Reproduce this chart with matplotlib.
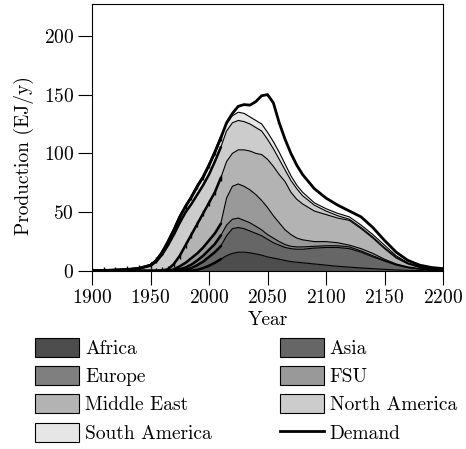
import matplotlib
matplotlib.use("Agg")
import matplotlib.pyplot as plt
from matplotlib.patches import Patch
from matplotlib.lines import Line2D

plt.rcParams['font.family'] = 'serif'
plt.rcParams['font.serif'] = ['cmr10']
plt.rcParams['mathtext.fontset'] = 'cm'
plt.rcParams['axes.formatter.use_mathtext'] = True

years = [1900, 1910, 1920, 1930, 1940, 1950, 1955, 1960, 1965, 1970, 1975, 1980,
         1985, 1990, 1995, 2000, 2005, 2010, 2015, 2020, 2025, 2030, 2035, 2040,
         2045, 2050, 2055, 2060, 2065, 2070, 2075, 2080, 2090, 2100, 2110, 2120,
         2130, 2140, 2150, 2160, 2170, 2180, 2190, 2200]

# cumulative tops of stacked regions (EJ/y)
cum_africa = [0, 0, 0, 0, 0, 0, 0, 0, 0, 0, 0, 0,
              0.3, 1, 2.5, 4.5, 7, 10, 13, 15, 16, 16, 15.5, 14.5,
              13.5, 12, 11, 10, 9, 8, 7.5, 7, 6, 5, 4, 3.3,
              2.6, 2, 1.4, 0.9, 0.5, 0.3, 0.2, 0.1]
cum_asia = [0, 0, 0, 0, 0, 0, 0, 0, 0, 0, 0.3, 1,
            2.5, 5, 8, 12, 16, 21, 30, 36, 37, 36, 34, 32,
            30, 27, 24, 22, 20, 19, 18.5, 18.5, 19.5, 20, 20, 19,
            16, 12, 8.5, 5, 2.8, 1.6, 0.8, 0.4]
cum_europe = [0, 0, 0, 0, 0, 0, 0, 0, 0, 0.5, 1.5, 3,
              5.5, 9, 13, 18, 23, 30, 39, 44, 45, 43, 41, 38,
              35, 31, 28, 25, 22.5, 21, 20.5, 20.5, 21, 21.5, 21.5, 20.5,
              17, 13, 9, 5.5, 3, 1.8, 0.9, 0.45]
cum_fsu = [0, 0, 0, 0, 0, 0, 0, 0, 0.3, 1.5, 4, 7,
           11, 15, 20, 26, 32, 40, 62, 72, 74, 72, 69, 65,
           60, 54, 47, 41, 35, 31, 28, 26.5, 25, 25, 24, 22,
           19, 15, 10, 6, 3.5, 2, 1, 0.5]
cum_me = [0, 0, 0, 0, 0, 0, 0, 0.5, 1.5, 6, 13, 22,
          31, 40, 49, 58, 67, 79, 93, 100, 103, 103, 102, 100,
          99, 95, 89, 82, 76, 67, 61, 57, 51, 48, 45, 43,
          36, 28, 19, 11, 6, 3, 1.3, 0.7]
cum_na = [0.3, 0.5, 0.8, 1.2, 2, 4.5, 8, 14, 22, 31, 41, 50,
          57, 65, 73, 82, 93, 105, 119, 126, 128, 127, 125, 122,
          119, 112, 104, 95, 86, 77, 70, 64, 56, 51, 47, 44,
          37, 29, 20, 12, 6.5, 3.3, 1.5, 0.8]
cum_sa = [0.3, 0.5, 0.8, 1.3, 2.2, 5, 9, 16, 25, 35, 46, 55,
          63, 72, 80, 90, 101, 113, 125, 132, 135, 134, 131, 128,
          125, 118, 110, 101, 91, 81, 73, 67, 58, 53, 49, 46,
          39, 31, 22, 13, 7, 3.8, 1.8, 1]
demand = [0.3, 0.5, 0.8, 1.3, 2.2, 5, 9, 16, 25, 35, 46, 55,
          63, 72, 80, 90, 101, 113, 126, 134, 140, 141.5, 141, 144,
          149, 150, 143, 126, 112, 100, 90, 82, 70, 62, 56, 51,
          46, 37, 26, 16, 9, 5, 3, 2]

regions = ["Africa", "Asia", "Europe", "FSU", "Middle East", "North America", "South America"]
colors = ["#4d4d4d", "#666666", "#7f7f7f", "#999999", "#b3b3b3", "#cccccc", "#e6e6e6"]
hist_end = 2010
FS = 14

fig = plt.figure(figsize=(4.66, 4.49), dpi=100)
ax = fig.add_axes([92/466, 178/449, 351/466, 267/449])

layers = [cum_africa, cum_asia, cum_europe, cum_fsu, cum_me, cum_na, cum_sa]
lower = [0]*len(years)
for name, col, top in zip(regions, colors, layers):
    ax.fill_between(years, lower, top, facecolor=col, edgecolor='none', zorder=1)
    ax.plot(years, top, color='black', lw=0.8, zorder=2)
    lower = top

# historical period drawn thicker
hist_idx = [i for i, y in enumerate(years) if y <= hist_end]
hy = [years[i] for i in hist_idx]
for top in layers:
    ax.plot(hy, [top[i] for i in hist_idx], color='black', lw=1.8, zorder=3)
for top in [cum_me, cum_sa]:
    ax.plot(hy, [top[i] for i in hist_idx], color='black', lw=0, marker='|',
            ms=4, mew=1.0, zorder=3)

ax.plot(years, demand, color='black', lw=2, zorder=4)

ax.set_xlim(1900, 2200)
ax.set_ylim(0, 227)
ax.set_xticks([1900, 1950, 2000, 2050, 2100, 2150, 2200])
ax.set_yticks([0, 50, 100, 150, 200])
ax.tick_params(direction='out', length=10, width=0.8, labelsize=FS, top=False, right=False, pad=3)
ax.set_xlabel("Year", fontsize=FS, labelpad=3)
ax.set_ylabel("Production (EJ/y)", fontsize=FS)
ax.yaxis.set_label_coords(-0.165, 0.434)
for s in ax.spines.values():
    s.set_linewidth(0.8)

handles = {name: Patch(facecolor=c, edgecolor='black', lw=0.8) for name, c in zip(regions, colors)}
handles["Demand"] = Line2D([0], [0], color='black', lw=2)
order = ["Africa", "Europe", "Middle East", "South America", "Asia", "FSU", "North America", "Demand"]
fig.legend([handles[k] for k in order], order, loc='upper left', bbox_to_anchor=(0.075, 0.248),
           ncol=2, frameon=False, fontsize=FS, handlelength=2.27, handleheight=1.13,
           labelspacing=0.42, columnspacing=3.5, handletextpad=0.3, borderpad=0, borderaxespad=0)

fig.savefig("out.png", dpi=100)
